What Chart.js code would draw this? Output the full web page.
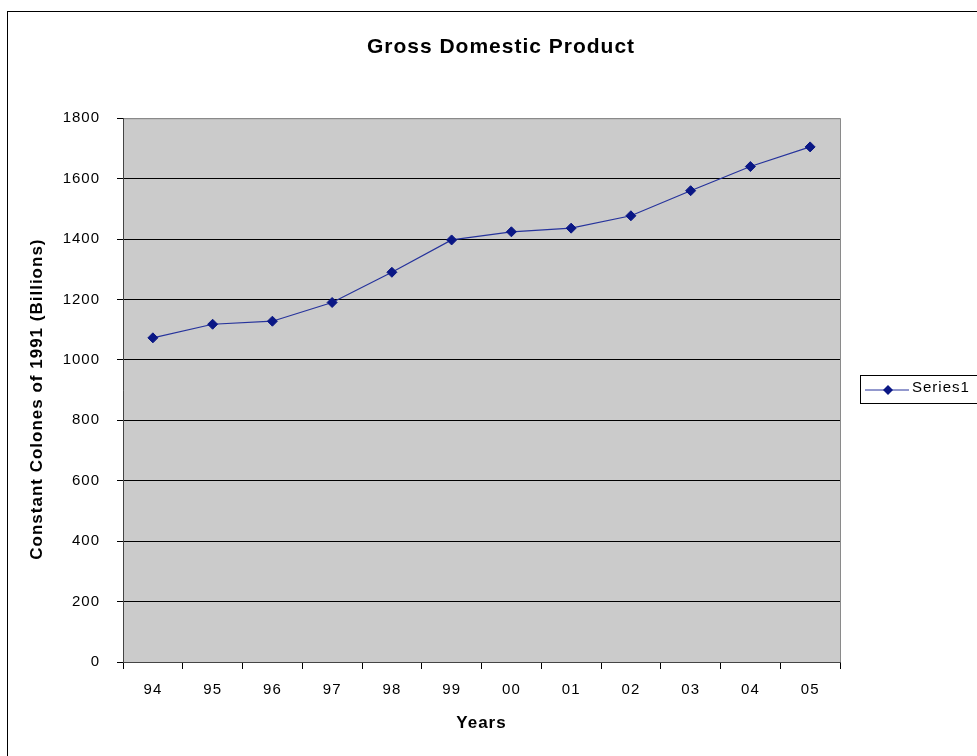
<!DOCTYPE html>
<html>
<head>
<meta charset="utf-8">
<script src="https://cdn.jsdelivr.net/npm/chart.js@4/dist/chart.umd.min.js"></script>
<style>
  html, body { margin: 0; padding: 0; background: #fff; }
  #wrap { width: 977px; height: 756px; position: relative; }
</style>
</head>
<body>
<div id="wrap"><canvas id="myChart" width="977" height="756"></canvas></div>
<script>
const years = ['94', '95', '96', '97', '98', '99', '00', '01', '02', '03', '04', '05'];
const gdpValues = [1073, 1118, 1128, 1190, 1290, 1397, 1424, 1436, 1477, 1560, 1640, 1705];
const yTicks = [0, 200, 400, 600, 800, 1000, 1200, 1400, 1600, 1800];

const FONT = "Arial, 'Liberation Sans', sans-serif";

// excel text looks a little spread out
const spacing = {
  id: 'spacing',
  beforeUpdate(chart) { chart.ctx.letterSpacing = '1px'; },
  beforeDraw(chart) { chart.ctx.letterSpacing = '1px'; },
  afterLayout(chart) {
    // center the title on the whole frame, not only the plot
    chart.titleBlock.left = 0;
    chart.titleBlock.right = 1002;
    // excel puts the y title a bit lower than the plot middle
    const y = chart.scales.y;
    const orig = y.drawTitle.bind(y);
    y.drawTitle = function () {
      chart.ctx.save();
      chart.ctx.translate(0, 9);
      orig();
      chart.ctx.restore();
    };
  }
};

// grey plot area + outer frame, drawn under everything
const backdrop = {
  id: 'backdrop',
  beforeDraw(chart) {
    const {ctx, chartArea: a} = chart;
    ctx.save();
    ctx.fillStyle = '#cbcbcb';
    ctx.fillRect(a.left, a.top, a.right - a.left, a.bottom - a.top);
    ctx.strokeStyle = '#8a8a8a';
    ctx.lineWidth = 1;
    ctx.strokeRect(a.left + 0.5, a.top + 0.5, a.right - a.left, a.bottom - a.top);
    ctx.strokeStyle = '#000';
    ctx.strokeRect(7.5, 11.5, 1000, 800);
    ctx.restore();
  }
};

// excel style legend box on the right
const boxLegend = {
  id: 'boxLegend',
  afterDraw(chart) {
    const {ctx} = chart;
    const ds = chart.data.datasets[0];
    ctx.save();
    ctx.strokeStyle = '#000';
    ctx.lineWidth = 1;
    ctx.strokeRect(860.5, 375.5, 130, 28);
    ctx.strokeStyle = ds.borderColor;
    ctx.beginPath();
    ctx.moveTo(865, 390);
    ctx.lineTo(909, 390);
    ctx.stroke();
    ctx.fillStyle = ds.pointBackgroundColor;
    ctx.beginPath();
    ctx.moveTo(888, 385);
    ctx.lineTo(893, 390);
    ctx.lineTo(888, 395);
    ctx.lineTo(883, 390);
    ctx.closePath();
    ctx.fill();
    ctx.fillStyle = '#000';
    ctx.font = '15px ' + FONT;
    ctx.textBaseline = 'middle';
    ctx.fillText(ds.label, 912, 388);
    ctx.restore();
  }
};

const ctx = document.getElementById('myChart').getContext('2d');

const config = {
  type: 'line',
  data: {
    labels: years,
    datasets: [
      {
        label: 'Series1',
        data: gdpValues,
        borderColor: '#26339c',
        borderWidth: 1.2,
        pointStyle: 'rectRot',
        pointRadius: 5,
        pointBackgroundColor: '#0a1785',
        pointBorderColor: '#0a1785',
        pointBorderWidth: 1,
        tension: 0
      }
    ]
  },
  options: {
    responsive: false,
    animation: false,
    layout: { padding: { left: 0, right: 137, top: 0, bottom: 0 } },
    plugins: {
      legend: { display: false },
      tooltip: { enabled: false },
      title: {
        display: true,
        text: 'Gross Domestic Product',
        color: '#000',
        font: { family: FONT, size: 21, weight: 'bold' },
        padding: { top: 35, bottom: 58 }
      }
    },
    scales: {
      x: {
        offset: true,
        afterFit(scale) { scale.height = 94; },
        grid: {
          offset: true,
          drawOnChartArea: false,
          tickLength: 7,
          tickColor: '#000'
        },
        border: { display: true, color: '#444', width: 1 },
        ticks: {
          color: '#000',
          font: { family: FONT, size: 15 },
          padding: 12,
          maxRotation: 0
        },
        title: {
          display: true,
          text: 'Years',
          color: '#000',
          font: { family: FONT, size: 17, weight: 'bold' },
          padding: { top: 0, bottom: 22 }
        }
      },
      y: {
        min: 0,
        max: 1800,
        afterFit(scale) { scale.width = 123; },
        afterBuildTicks(scale) { scale.ticks = yTicks.map(v => ({value: v})); },
        grid: {
          color: (c) => (c.tick && c.tick.value === 1800 ? '#8a8a8a' : '#000'),
          tickLength: 6,
          tickColor: '#000',
          lineWidth: 1
        },
        border: { display: true, color: '#444', width: 1 },
        ticks: {
          color: '#000',
          font: { family: FONT, size: 15 },
          padding: 17,
          callback: (v) => String(v)
        },
        title: {
          display: true,
          text: 'Constant Colones of 1991 (Billions)',
          color: '#000',
          font: { family: FONT, size: 17, weight: 'bold' },
          padding: { top: 27, bottom: 0 }
        }
      }
    }
  },
  plugins: [spacing, backdrop, boxLegend]
};

const myChart = new Chart(ctx, config);
</script>
</body>
</html>
